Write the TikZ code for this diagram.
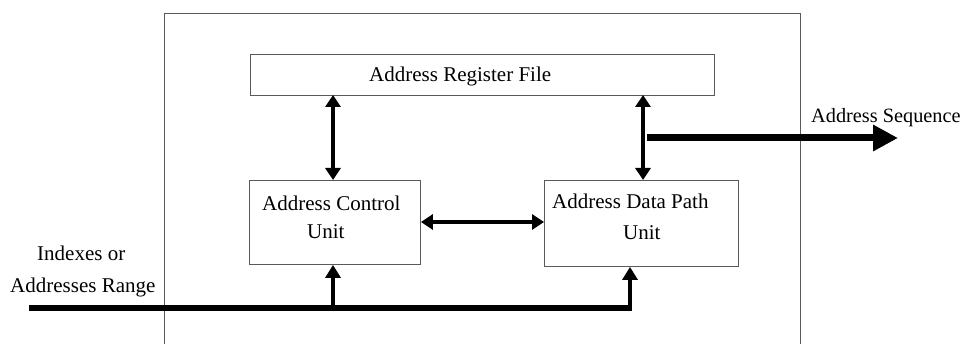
\documentclass[tikz,border=0pt]{standalone}
\usepackage{fontspec}
\setmainfont{Liberation Serif}
\usetikzlibrary{arrows.meta,calc}
\begin{document}
\begin{tikzpicture}[x=1pt,y=-1pt,
  blk/.style={draw=black!65,line width=0.9pt,rectangle,inner sep=0pt,anchor=north west},
  txt/.style={inner sep=0pt,anchor=base west,font=\fontsize{21}{24}\selectfont},
  dbl/.style={line width=3.5pt,{Triangle[length=12pt,width=15pt]}-{Triangle[length=12pt,width=15pt]}},
  up/.style={line width=4pt,-{Triangle[length=13pt,width=15pt]}},
  bus/.style={line width=6.5pt},
  seq/.style={line width=7pt,-{Triangle[length=25pt,width=25pt]}}]
\useasboundingbox (0,0) rectangle (965,344);
\fill[white] (0,0) rectangle (965,344);
% outer frame
\draw[draw=black!65,line width=0.9pt] (164,13) rectangle (800,360);
% boxes
\node[blk,minimum width=464pt,minimum height=41pt] (reg) at (250,54) {};
\node[blk,minimum width=171pt,minimum height=84pt] (ctrl) at (249,180) {};
\node[blk,minimum width=194pt,minimum height=86pt] (dp) at (544,180) {};
% texts
\node[txt] (tReg) at (369,82) {Address Register File};
\node[txt] (tCtrl1) at (262,211) {Address Control};
\node[txt] (tCtrl2) at (307,239) {Unit};
\node[txt] (tDp1) at (552,209) {Address Data Path};
\node[txt] (tDp2) at (623,240) {Unit};
\node[txt,font=\fontsize{20.3}{24}\selectfont] (tSeq) at (811,123) {Address Sequence};
\node[txt] (tIdx1) at (37,261) {Indexes or};
\node[txt] (tIdx2) at (10,292) {Addresses Range};
% coordinates
\coordinate (regA) at (333,95);
\coordinate (regB) at (643,95);
\coordinate (ctrlTop) at (333,180);
\coordinate (dpTop) at (643,180);
\coordinate (busL) at (29,308);
\coordinate (busC) at (333,308);
\coordinate (busR) at (630,308);
\coordinate (seqS) at (647,138);
\coordinate (seqE) at (898,138);
% connectors
\draw[dbl] (regA) -- (ctrlTop);
\draw[dbl] (regB) -- (dpTop);
\draw[dbl] (ctrl.east |- 0,222) -- (dp.west |- 0,222);
\draw[seq] (seqS) -- (seqE);
\draw[bus] (busL) -- ($(busR)+(2,0)$);
\draw[up] ($(busC)+(0,2)$) -- (busC |- ctrl.south);
\draw[up] ($(busR)+(0,3.25)$) -- (busR |- dp.south);
\end{tikzpicture}
\end{document}
